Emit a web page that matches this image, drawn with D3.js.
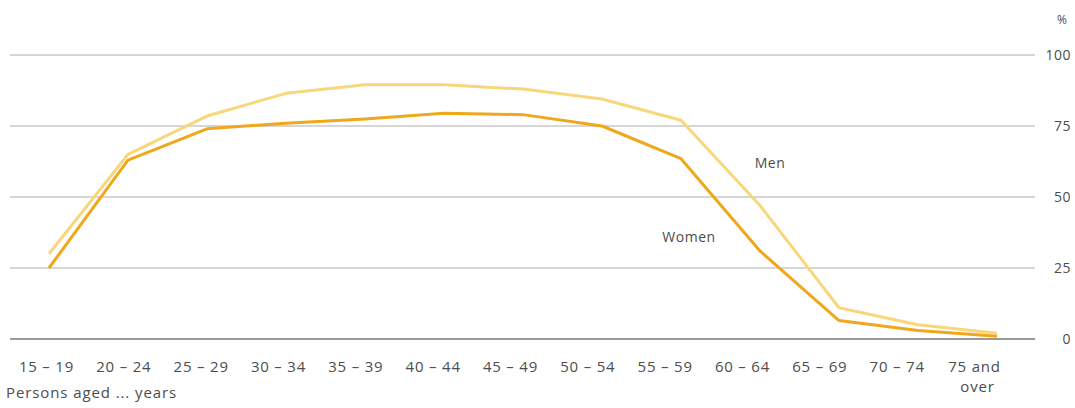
<!DOCTYPE html>
<html><head><meta charset="utf-8">
<script src="https://cdn.jsdelivr.net/npm/d3@7"></script>
<style>
body{margin:0;background:#fff;}
text{font-family:"Open Sans","Noto Sans",sans-serif;fill:#4d4d4d;}
</style></head>
<body>
<svg id="c" width="1075" height="408"></svg>
<script>
const categories = ["15 – 19","20 – 24","25 – 29","30 – 34","35 – 39","40 – 44","45 – 49","50 – 54","55 – 59","60 – 64","65 – 69","70 – 74","75 and over"];
const men   = [30, 65, 78.5, 86.5, 89.5, 89.5, 88, 84.5, 77, 47, 11, 5, 2];
const women = [25, 63, 74, 76, 77.5, 79.5, 79, 75, 63.5, 31, 6.5, 3, 1];
const yTicks = [0, 25, 50, 75, 100];

const svg = d3.select("#c");
const x = d3.scalePoint().domain(categories).range([49, 997]);
const xLab = d3.scalePoint().domain(categories).range([46, 974]);
const y = d3.scaleLinear().domain([0, 100]).range([339, 55]);

// gridlines
svg.append("g").selectAll("line").data(yTicks.filter(d => d > 0)).join("line")
  .attr("x1", 10).attr("x2", 1035)
  .attr("y1", d => y(d)).attr("y2", d => y(d))
  .attr("stroke", "#c9c9c9").attr("stroke-width", 1.3);

// y labels
const yAxis = svg.append("g").attr("transform", "translate(1071,0)")
  .call(d3.axisRight(y).tickValues(yTicks).tickSize(0).tickPadding(0));
yAxis.select(".domain").remove();
yAxis.selectAll("text").attr("text-anchor", "end").attr("font-size", 14)
  .attr("letter-spacing", "0.5px")
  .style("font-family", '"Open Sans","Noto Sans",sans-serif').attr("fill", "#4d4d4d");
svg.append("text").attr("x", 1067).attr("y", 24).attr("text-anchor", "end")
  .attr("font-size", 12).text("%");

// lines
const line = d3.line().x((d, i) => x(categories[i])).y(d => y(d));
svg.append("path").datum(men).attr("d", line).attr("fill", "none")
  .attr("stroke", "#f8d77c").attr("stroke-width", 3).attr("stroke-linejoin", "round");
svg.append("path").datum(women).attr("d", line).attr("fill", "none")
  .attr("stroke", "#efa71b").attr("stroke-width", 3).attr("stroke-linejoin", "round");

// baseline
svg.append("line").attr("x1", 10).attr("x2", 1035).attr("y1", y(0)).attr("y2", y(0))
  .attr("stroke", "#9a9a9a").attr("stroke-width", 2);

// x labels
const xAxis = svg.append("g").attr("transform", "translate(0,358)")
  .call(d3.axisBottom(xLab).tickSize(0).tickPadding(0).tickFormat(() => ""));
xAxis.select(".domain").remove();
xAxis.selectAll(".tick").each(function(d) {
  const t = d3.select(this).append("text").attr("text-anchor", "middle")
    .attr("font-size", 15).attr("letter-spacing", "0.8px").attr("fill", "#4d4d4d").attr("y", 14);
  if (d === "75 and over") {
    t.append("tspan").attr("x", 0).attr("dy", 0).text("75 and");
    t.append("tspan").attr("x", 3).attr("dy", 20).text("over");
  } else {
    t.text(d);
  }
});

svg.append("text").attr("x", 6).attr("y", 398).attr("font-size", 15)
  .attr("letter-spacing", "0.9px").text("Persons aged ... years");

// series labels
svg.append("text").attr("x", 770).attr("y", 168).attr("text-anchor", "middle")
  .attr("font-size", 14).attr("letter-spacing", "0.5px").text("Men");
svg.append("text").attr("x", 689).attr("y", 242).attr("text-anchor", "middle")
  .attr("font-size", 14).attr("letter-spacing", "0.5px").text("Women");
</script>
</body></html>
